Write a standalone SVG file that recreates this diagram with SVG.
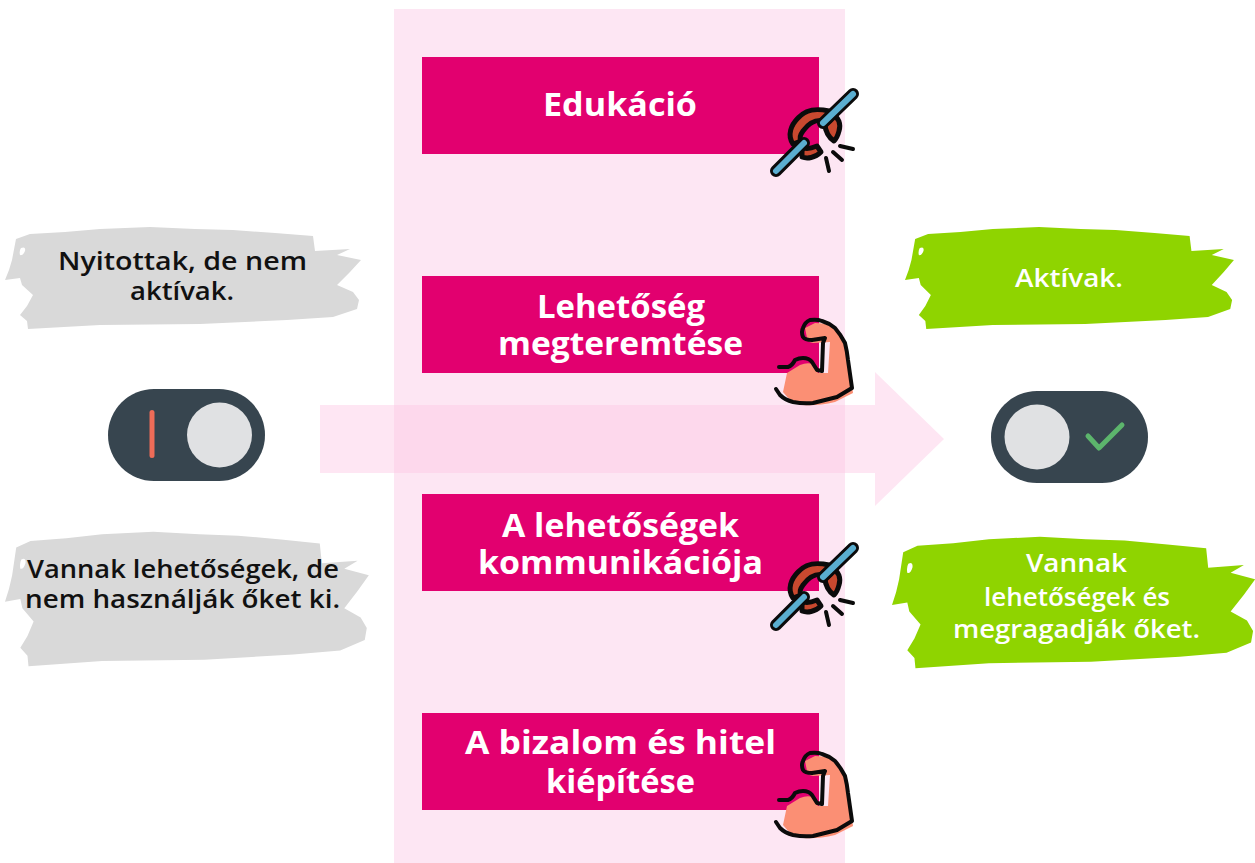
<svg xmlns="http://www.w3.org/2000/svg" xmlns:xlink="http://www.w3.org/1999/xlink" width="1255" height="863" viewBox="0 0 1255 863">
<style>
text{font-family:"Open Sans","Noto Sans","Liberation Sans",sans-serif;text-anchor:middle}
.h{font-size:33px;font-weight:700;fill:#fff}
.b{font-size:25px;font-weight:600;fill:#111}
.w{font-size:25px;font-weight:600;fill:#fff}
.box{fill:#e2006f}
.track{fill:#37454f}
.knob{fill:#e0e1e3}
.g{fill:#d9d9d9}
.lime{fill:#8fd400}
.ol{fill:none;stroke:#0b0b0b;stroke-linecap:round;stroke-linejoin:round}
.red{fill:#c9492f;stroke:#0b0b0b;stroke-width:5;stroke-linejoin:round}
</style>
<defs>
<path id="brush" fill-rule="evenodd" d="M11 11L25 6L60 4L95 1L145 -1L190 1L228 2L270 5L308 8L310 23L345 21L332 27L356 32L345 44L332 57L348 64L354 72L352 81L328 89L282 92L195 96L95 97L23 101L22 93L15 87L22 78L28 67L17 57L15 50L0 52L4 42L7 32ZM16 20Q21 18 20 23Q18 28 15 27Q14 23 16 20Z"/>
<g id="link">
<path class="red" d="M793 144C787 135 791 125 798 118C806 109 816 108 829 111L824 121C815 119 809 123 803 131C800 135 799 138 801 141Z"/>
<path class="red" d="M802 147C806 150 812 148 817 146L821 152C815 158 807 159 802 157Z"/>
<path class="red" d="M825 124C830 122 832 118 832 115C839 117 841 124 839 131C838 135 836 139 834 141C829 138 825 131 825 124Z"/>
<path class="ol" stroke-width="12" d="M776 171L804 143M823 123L853 94"/>
<path fill="none" stroke="#5aaed0" stroke-width="6" stroke-linecap="round" d="M776 171L804 143M823 123L853 94"/>
<path class="ol" stroke-width="4" d="M840 146L853 149M833 152L842 160M826 158L829 171"/>
</g>
<g id="muscle">
<path fill="#fb8f74" d="M787 373L800 365Q807 362 813 364L818 373L828 373L830 342L813 343Q807 342 807 338L805 328L815 323Q826 323 833 327Q842 334 847 345L850 372L853 393L835 402Q818 406 803 405Q790 402 783 392Z"/>
<path class="ol" stroke-width="4" d="M779 367L788 367Q792 366 795 360Q799 358 803 358Q809 358 812 362L817 370L822 371L823 343L825 338L812 340Q805 340 803 337Q801 332 803 328Q805 322 810 320Q817 319 822 321Q829 323 835 328Q841 335 845 343Q847 351 848 360L852 388L837 397L813 403Q803 404 793 402Q785 400 780 395L776 389"/>
</g>
</defs>
<rect id="band" fill="#fde6f3" x="394" y="9" width="451" height="854"/>
<g id="connectors"><path id="arrow" fill="#fdc9e5" fill-opacity=".46" d="M320 405H875V372L944 439L875 506V473H320Z"/></g>
<g id="node-edukacio"><rect class="box" x="422" y="57" width="397" height="97"/><text class="h" x="620" y="116" textLength="154" lengthAdjust="spacingAndGlyphs">Edukáció</text><use xlink:href="#link" href="#link"/></g>
<g id="node-lehetoseg"><rect class="box" x="422" y="276" width="397" height="97"/><text class="h" x="621" y="318" textLength="168" lengthAdjust="spacingAndGlyphs">Lehetőség</text><text class="h" x="620.500" y="355" textLength="245" lengthAdjust="spacingAndGlyphs">megteremtése</text><use xlink:href="#muscle" href="#muscle"/></g>
<g id="node-kommunikacio"><rect class="box" x="422" y="494" width="397" height="97"/><text class="h" x="620.500" y="537" textLength="237" lengthAdjust="spacingAndGlyphs">A lehetőségek</text><text class="h" x="620.500" y="574" textLength="285" lengthAdjust="spacingAndGlyphs">kommunikációja</text><use xlink:href="#link" href="#link" y="454"/></g>
<g id="node-bizalom"><rect class="box" x="422" y="713" width="397" height="97"/><text class="h" x="620.500" y="754" textLength="311" lengthAdjust="spacingAndGlyphs">A bizalom és hitel</text><text class="h" x="620.500" y="793" textLength="149" lengthAdjust="spacingAndGlyphs">kiépítése</text><use xlink:href="#muscle" href="#muscle" y="433"/></g>
<g id="node-nyitottak"><use xlink:href="#brush" href="#brush" class="g" transform="translate(5 228)"/><text class="b" x="182.500" y="270" textLength="249" lengthAdjust="spacingAndGlyphs">Nyitottak, de nem</text><text class="b" x="182" y="300" textLength="104" lengthAdjust="spacingAndGlyphs">aktívak.</text></g>
<g id="node-vannak-gray"><use xlink:href="#brush" href="#brush" class="g" transform="translate(5 533) scale(1.022 1.320)"/><text class="b" x="183" y="578" textLength="312" lengthAdjust="spacingAndGlyphs">Vannak lehetőségek, de</text><text class="b" x="182.500" y="608" textLength="315" lengthAdjust="spacingAndGlyphs">nem használják őket ki.</text></g>
<g id="node-aktivak"><use xlink:href="#brush" href="#brush" class="lime" transform="translate(905 228) scale(.924 1)"/><text class="w" x="1069" y="287" textLength="108" lengthAdjust="spacingAndGlyphs">Aktívak.</text></g>
<g id="node-vannak-green"><use xlink:href="#brush" href="#brush" class="lime" transform="translate(892 538) scale(1.020 1.290)"/><text class="w" x="1076.500" y="572" textLength="101" lengthAdjust="spacingAndGlyphs">Vannak</text><text class="w" x="1077" y="606" textLength="186" lengthAdjust="spacingAndGlyphs">lehetőségek és</text><text class="w" x="1076.500" y="638" textLength="247" lengthAdjust="spacingAndGlyphs">megragadják őket.</text></g>
<g id="toggle-off"><rect class="track" x="108" y="389" width="157" height="92" rx="46"/><circle class="knob" cx="219.500" cy="435" r="32.500"/><rect x="149.500" y="410" width="5" height="48" rx="2.500" fill="#ee6c58"/></g>
<g id="toggle-on"><rect class="track" x="991" y="391" width="157" height="92" rx="46"/><circle class="knob" cx="1037" cy="437" r="32.500"/><path d="M1088 436L1099 448L1122 425" fill="none" stroke="#5cb56c" stroke-width="5" stroke-linecap="round" stroke-linejoin="round"/></g>
</svg>
